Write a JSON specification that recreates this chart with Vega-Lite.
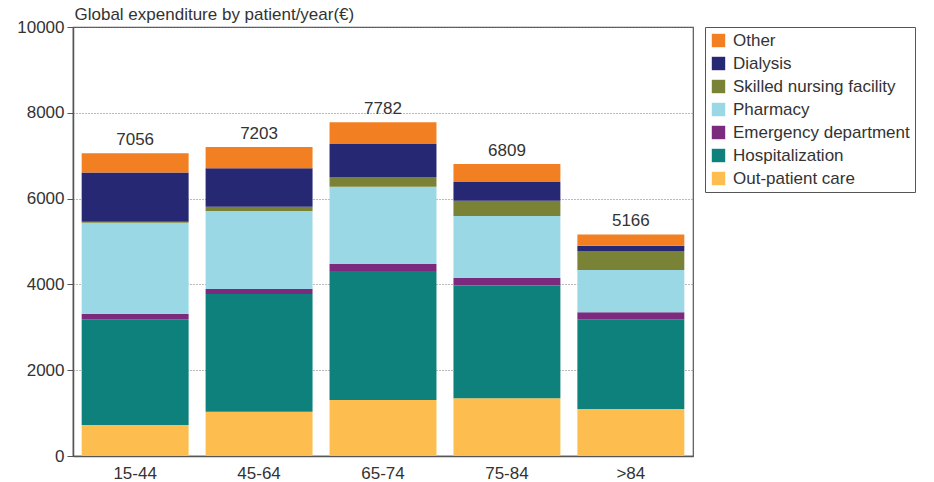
{
  "$schema": "https://vega.github.io/schema/vega-lite/v6.json",
  "width": 620,
  "height": 429,
  "autosize": {"type": "none"},
  "padding": {"left": 73, "top": 27, "right": 241, "bottom": 26},
  "background": "white",
  "config": {
    "font": "Liberation Sans",
    "view": {"stroke": "#555", "strokeWidth": 1.2},
    "axis": {"labelFont": "Liberation Sans", "labelColor": "#333", "titleFont": "Liberation Sans", "titleColor": "#333"}
  },
  "data": {
    "values": [
      {"age": "15-44", "cat": "Out-patient care", "ord": 1, "value": 722},
      {"age": "15-44", "cat": "Hospitalization", "ord": 2, "value": 2464},
      {"age": "15-44", "cat": "Emergency department", "ord": 3, "value": 130},
      {"age": "15-44", "cat": "Pharmacy", "ord": 4, "value": 2121},
      {"age": "15-44", "cat": "Skilled nursing facility", "ord": 5, "value": 23},
      {"age": "15-44", "cat": "Dialysis", "ord": 6, "value": 1151},
      {"age": "15-44", "cat": "Other", "ord": 7, "value": 445},
      {"age": "45-64", "cat": "Out-patient care", "ord": 1, "value": 1033},
      {"age": "45-64", "cat": "Hospitalization", "ord": 2, "value": 2743},
      {"age": "45-64", "cat": "Emergency department", "ord": 3, "value": 116},
      {"age": "45-64", "cat": "Pharmacy", "ord": 4, "value": 1818},
      {"age": "45-64", "cat": "Skilled nursing facility", "ord": 5, "value": 101},
      {"age": "45-64", "cat": "Dialysis", "ord": 6, "value": 894},
      {"age": "45-64", "cat": "Other", "ord": 7, "value": 498},
      {"age": "65-74", "cat": "Out-patient care", "ord": 1, "value": 1305},
      {"age": "65-74", "cat": "Hospitalization", "ord": 2, "value": 3007},
      {"age": "65-74", "cat": "Emergency department", "ord": 3, "value": 163},
      {"age": "65-74", "cat": "Pharmacy", "ord": 4, "value": 1802},
      {"age": "65-74", "cat": "Skilled nursing facility", "ord": 5, "value": 225},
      {"age": "65-74", "cat": "Dialysis", "ord": 6, "value": 770},
      {"age": "65-74", "cat": "Other", "ord": 7, "value": 510},
      {"age": "75-84", "cat": "Out-patient care", "ord": 1, "value": 1344},
      {"age": "75-84", "cat": "Hospitalization", "ord": 2, "value": 2633},
      {"age": "75-84", "cat": "Emergency department", "ord": 3, "value": 171},
      {"age": "75-84", "cat": "Pharmacy", "ord": 4, "value": 1445},
      {"age": "75-84", "cat": "Skilled nursing facility", "ord": 5, "value": 358},
      {"age": "75-84", "cat": "Dialysis", "ord": 6, "value": 435},
      {"age": "75-84", "cat": "Other", "ord": 7, "value": 423},
      {"age": ">84", "cat": "Out-patient care", "ord": 1, "value": 1095},
      {"age": ">84", "cat": "Hospitalization", "ord": 2, "value": 2091},
      {"age": ">84", "cat": "Emergency department", "ord": 3, "value": 163},
      {"age": ">84", "cat": "Pharmacy", "ord": 4, "value": 986},
      {"age": ">84", "cat": "Skilled nursing facility", "ord": 5, "value": 443},
      {"age": ">84", "cat": "Dialysis", "ord": 6, "value": 124},
      {"age": ">84", "cat": "Other", "ord": 7, "value": 264}
    ]
  },
  "encoding": {
    "x": {
      "field": "age", "type": "nominal", "sort": ["15-44", "45-64", "65-74", "75-84", ">84"],
      "scale": {"paddingInner": 0.137, "paddingOuter": 0.07},
      "axis": {"title": null, "labelAngle": 0, "labelFontSize": 17, "ticks": false, "labelPadding": 9, "domainColor": "#555", "domainWidth": 1.5}
    }
  },
  "layer": [
    {
      "mark": {"type": "bar"},
      "encoding": {
        "y": {
          "field": "value", "type": "quantitative", "aggregate": "sum", "stack": "zero",
          "scale": {"domain": [0, 10000], "nice": false},
          "axis": {
            "values": [0, 2000, 4000, 6000, 8000, 10000], "format": "d",
            "labelFontSize": 17, "tickSize": 6, "tickColor": "#555", "labelPadding": 3,
            "domainColor": "#555", "domainWidth": 1.5,
            "grid": true, "gridDash": [1, 2], "gridColor": "#777", "gridWidth": 1,
            "title": "Global expenditure by patient/year(€)", "titleAngle": 0, "titleX": 1, "titleY": -8,
            "titleAlign": "left", "titleBaseline": "alphabetic", "titleFontSize": 17, "titleFontWeight": "normal"
          }
        },
        "color": {
          "field": "cat", "type": "nominal",
          "scale": {
            "domain": ["Other", "Dialysis", "Skilled nursing facility", "Pharmacy", "Emergency department", "Hospitalization", "Out-patient care"],
            "range": ["#F28023", "#262873", "#7A8236", "#9BD8E5", "#7C2A7E", "#0E817D", "#FDBE4F"]
          },
          "legend": {
            "title": null, "orient": "none", "legendX": 632, "legendY": 0,
            "labelFontSize": 17, "labelColor": "#333", "labelFont": "Liberation Sans",
            "symbolType": "square", "symbolSize": 180, "symbolStrokeWidth": 0,
            "rowPadding": 5, "padding": 5, "strokeColor": "#555", "labelOffset": 6,
            "labelLimit": 300
          }
        },
        "order": {"field": "ord", "type": "quantitative", "sort": "ascending"}
      }
    },
    {
      "mark": {"type": "text", "dy": -8, "baseline": "alphabetic", "fontSize": 17, "color": "#333"},
      "encoding": {
        "y": {"field": "value", "type": "quantitative", "aggregate": "sum"},
        "text": {"field": "value", "type": "quantitative", "aggregate": "sum", "format": "d"}
      }
    }
  ]
}
